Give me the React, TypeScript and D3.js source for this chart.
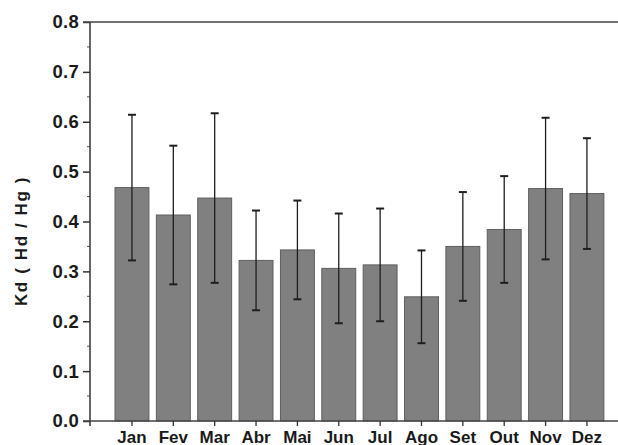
import React, { useEffect, useRef } from 'react';
import * as d3 from 'd3';

const months = ['Jan', 'Fev', 'Mar', 'Abr', 'Mai', 'Jun', 'Jul', 'Ago', 'Set', 'Out', 'Nov', 'Dez'];
const kdMean = [0.468, 0.413, 0.447, 0.322, 0.343, 0.306, 0.313, 0.249, 0.350, 0.384, 0.466, 0.456];
const kdErr = [0.146, 0.139, 0.170, 0.100, 0.099, 0.110, 0.113, 0.093, 0.109, 0.107, 0.142, 0.111];
const yTicks = [0, 0.1, 0.2, 0.3, 0.4, 0.5, 0.6, 0.7, 0.8];

const App = () => {
	const ref = useRef<SVGSVGElement>(null);
	useEffect(() => drawChart(), []);

	function drawChart() {
		const width = 618;
		const height = 445;
		const left = 90;
		const top = 22;
		const bottom = 421;
		const svg = d3.select(ref.current);
		svg.selectAll('*').remove();

		const x = d3.scaleLinear().domain([0, 13]).range([90.6, 628.3]);
		const y = d3.scaleLinear().domain([0, 0.8]).range([bottom, top]);
		const barW = (x(1) - x(0)) * 0.82;
		const font = "'Liberation Sans', Arial, sans-serif";

		// bars
		svg.append('g').selectAll('rect')
			.data(kdMean)
			.enter()
			.append('rect')
			.attr('x', (d, i) => x(i + 1) - barW / 2)
			.attr('y', (d) => y(d))
			.attr('width', barW)
			.attr('height', (d) => y(0) - y(d))
			.attr('fill', '#808080')
			.attr('stroke', '#5e5e5e')
			.attr('stroke-width', 1);

		// error bars
		const eg = svg.append('g').attr('stroke', '#1e1e1e').attr('stroke-width', 1.3);
		kdMean.forEach((m, i) => {
			const cx = x(i + 1);
			const hi = y(m + kdErr[i]);
			const lo = y(m - kdErr[i]);
			eg.append('line').attr('x1', cx).attr('x2', cx).attr('y1', hi).attr('y2', lo);
			eg.append('line').attr('x1', cx - 4).attr('x2', cx + 4).attr('y1', hi).attr('y2', hi).attr('stroke-width', 2);
			eg.append('line').attr('x1', cx - 4).attr('x2', cx + 4).attr('y1', lo).attr('y2', lo).attr('stroke-width', 2);
		});

		// y axis
		const yAxis = d3.axisLeft(y)
			.tickValues(yTicks)
			.tickSize(7)
			.tickPadding(4)
			.tickFormat(d3.format('.1f'));
		const ya = svg.append('g')
			.attr('transform', 'translate(' + left + ',0)')
			.call(yAxis);
		ya.select('.domain').remove();
		ya.selectAll('line').attr('stroke', '#333').attr('stroke-width', 1.5);
		ya.selectAll('text')
			.attr('font-family', font)
			.attr('font-weight', 'bold')
			.attr('font-size', '18.5px')
			.attr('letter-spacing', '0.3px')
			.attr('fill', '#1a1a1a');

		// minor ticks
		svg.append('g').selectAll('line')
			.data(d3.range(0.05, 0.8, 0.1))
			.enter()
			.append('line')
			.attr('x1', left - 3)
			.attr('x2', left)
			.attr('y1', (d) => y(d))
			.attr('y2', (d) => y(d))
			.attr('stroke', '#555')
			.attr('stroke-width', 1);

		// axis lines
		svg.append('line').attr('x1', left).attr('x2', left).attr('y1', top).attr('y2', bottom + 5)
			.attr('stroke', '#333').attr('stroke-width', 1.5);
		svg.append('line').attr('x1', left - 7).attr('x2', width).attr('y1', top).attr('y2', top)
			.attr('stroke', '#444').attr('stroke-width', 1.5);
		svg.append('line').attr('x1', left - 7).attr('x2', width).attr('y1', bottom).attr('y2', bottom)
			.attr('stroke', '#444').attr('stroke-width', 1.5);

		// x ticks and labels
		const xg = svg.append('g');
		xg.selectAll('line')
			.data(months)
			.enter()
			.append('line')
			.attr('x1', (d, i) => x(i + 1))
			.attr('x2', (d, i) => x(i + 1))
			.attr('y1', bottom)
			.attr('y2', bottom + 5)
			.attr('stroke', '#333')
			.attr('stroke-width', 1.3);
		xg.selectAll('text')
			.data(months)
			.enter()
			.append('text')
			.text((d) => d)
			.attr('x', (d, i) => x(i + 1))
			.attr('y', 443)
			.attr('text-anchor', 'middle')
			.attr('font-family', font)
			.attr('font-weight', 'bold')
			.attr('font-size', '17px')
			.attr('fill', '#1a1a1a');

		// y label
		svg.append('text')
			.text('Kd ( Hd / Hg )')
			.attr('transform', 'translate(27,241) rotate(-90)')
			.attr('text-anchor', 'middle')
			.attr('font-family', font)
			.attr('font-weight', 'bold')
			.attr('font-size', '17px')
			.attr('letter-spacing', '1.6px')
			.attr('fill', '#1a1a1a');

		svg.attr('width', width).attr('height', height);
	}

	return (
		<svg ref={ref} width={618} height={445}
			style={{ position: 'absolute', left: 0, top: 0, background: '#fff' }} />
	);
};

export default App;
